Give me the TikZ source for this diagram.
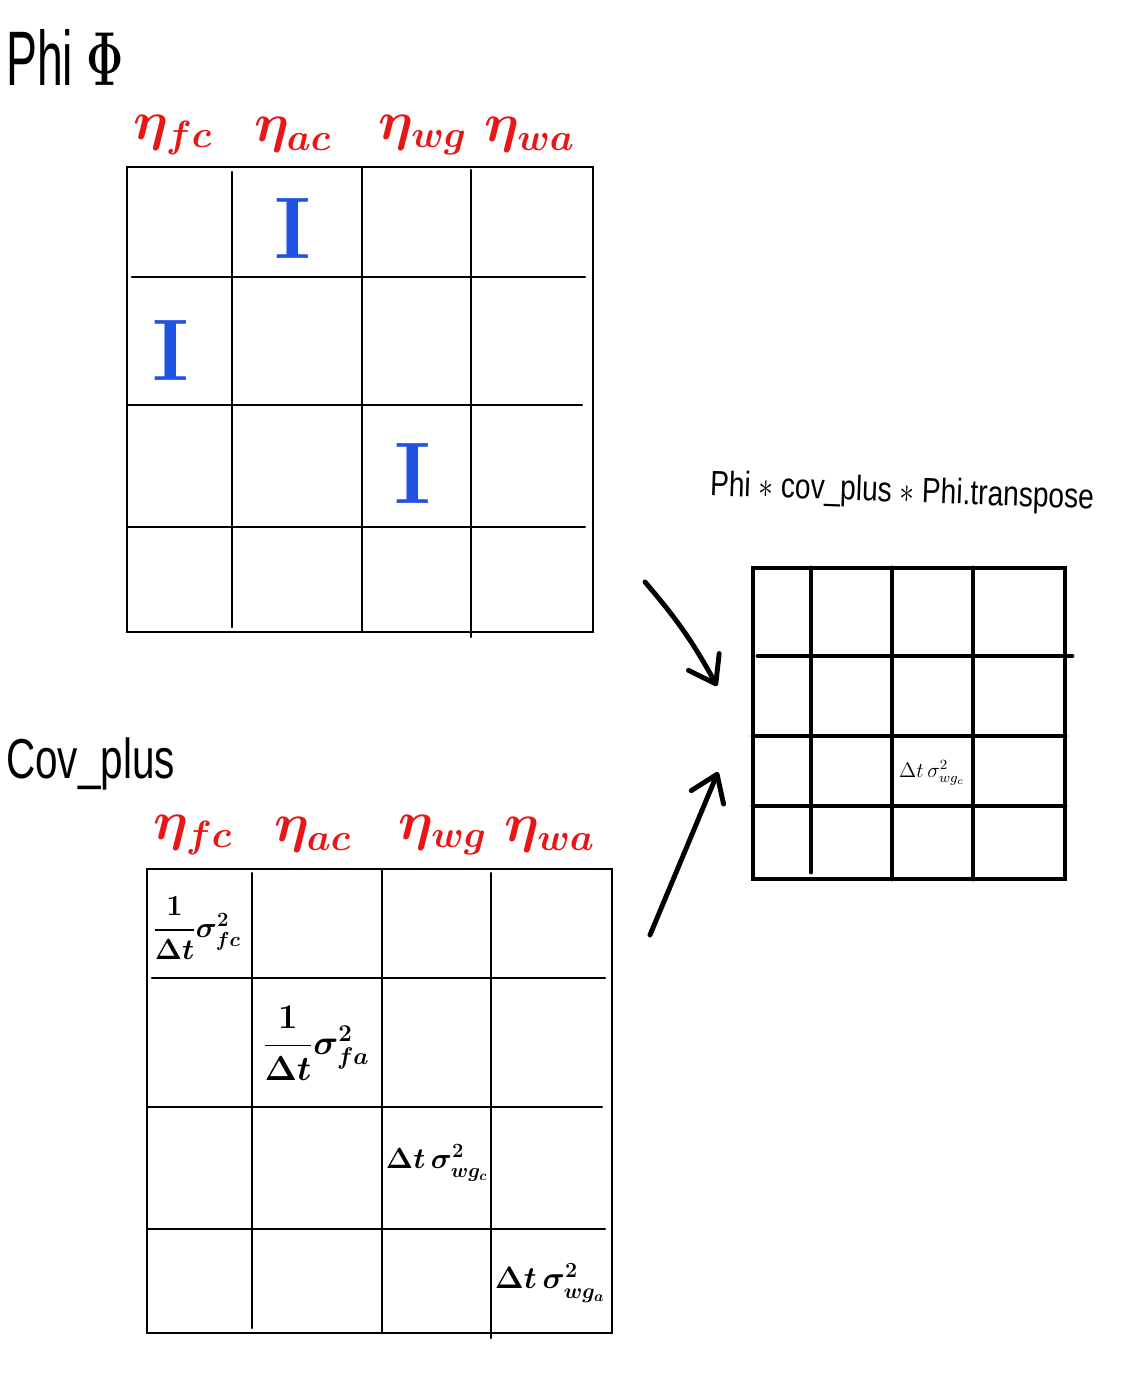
\documentclass[tikz,border=0pt]{standalone}
\usepackage{amsmath}
\usepackage{amssymb}
\usepackage{xcolor}
\usepackage[no-math]{fontspec}
\setmainfont{Liberation Sans}
\usepackage{tikz}
\usetikzlibrary{arrows.meta, positioning, calc}

\definecolor{labelred}{RGB}{232,22,22}
\definecolor{idblue}{RGB}{32,82,228}

% math scaled up past the largest fixed size
\newcommand{\bigmath}[2]{\scalebox{#1}{\fontsize{20}{24}\selectfont$#2$}}

\tikzset{
  gridthin/.style={line width=1.2pt, line cap=round},
  gridthick/.style={line width=2.8pt, line cap=round},
  colname/.style={labelred},
  idmark/.style={idblue},
  handarrow/.style={line width=2.8pt, line cap=round, -{Straight Barb[length=5mm,width=7mm,round]}}
}

\begin{document}
\begin{tikzpicture}[x=0.02cm, y=-0.02cm]
  % Page frame
  \useasboundingbox (0,0) rectangle (1124,1383);

  % Titles
  \node[anchor=west] (phititle) at (0,57) {\scalebox{0.6}[1]{\fontsize{44}{48}\selectfont Phi \bigmath{2.1}{\boldsymbol{\Phi}}}};
  \node[anchor=west] (covtitle) at (0,764) {\scalebox{0.72}[1]{\fontsize{32}{36}\selectfont Cov\_plus}};
  \node[rotate=-2] (formula) at (902,493) {\scalebox{0.8}[1]{\fontsize{20}{24}\selectfont Phi $*$ cov\_plus $*$ Phi.transpose}};

  % Phi matrix
  \draw[gridthin] (127,167) rectangle (593,632);
  \foreach \x/\ya/\yb in {232/172/627, 362/167/632, 471/170/637}
    \draw[gridthin] (\x,\ya) -- (\x,\yb);
  \foreach \y/\xa/\xb in {277/132/585, 405/127/582, 527/127/585}
    \draw[gridthin] (\xa,\y) -- (\xb,\y);

  % Phi column labels
  \node[colname] (phifc) at (173,135) {\bigmath{1.5}{\boldsymbol{\eta_{fc}}}};
  \node[colname] (phiac) at (293,135) {\bigmath{1.5}{\boldsymbol{\eta_{ac}}}};
  \node[colname] (phiwg) at (423,135) {\bigmath{1.5}{\boldsymbol{\eta_{wg}}}};
  \node[colname] (phiwa) at (530,135) {\bigmath{1.5}{\boldsymbol{\eta_{wa}}}};

  % Identity blocks
  \node[idmark] (idone) at (293,228) {\bigmath{2.4}{\mathbf{I}}};
  \node[idmark] (idtwo) at (171,350) {\bigmath{2.4}{\mathbf{I}}};
  \node[idmark] (idthree) at (413,473) {\bigmath{2.4}{\mathbf{I}}};

  % Cov_plus matrix
  \draw[gridthin] (147,869) rectangle (612,1333);
  \foreach \x/\ya/\yb in {252/873/1328, 382/869/1333, 491/873/1338}
    \draw[gridthin] (\x,\ya) -- (\x,\yb);
  \foreach \y/\xa/\xb in {978/152/605, 1107/147/602, 1229/147/605}
    \draw[gridthin] (\xa,\y) -- (\xb,\y);

  % Cov_plus column labels
  \node[colname] (covfc) at (193,835) {\bigmath{1.5}{\boldsymbol{\eta_{fc}}}};
  \node[colname] (covac) at (313,835) {\bigmath{1.5}{\boldsymbol{\eta_{ac}}}};
  \node[colname] (covwg) at (443,835) {\bigmath{1.5}{\boldsymbol{\eta_{wg}}}};
  \node[colname] (covwa) at (550,835) {\bigmath{1.5}{\boldsymbol{\eta_{wa}}}};

  % Diagonal noise terms
  \node (sigfc) at (197,928) {\bigmath{0.8}{\boldsymbol{\dfrac{1}{\Delta t}\sigma_{fc}^{2}}}};
  \node (sigfa) at (316,1043) {\bigmath{0.95}{\boldsymbol{\dfrac{1}{\Delta t}\sigma_{fa}^{2}}}};
  \node (sigwgc) at (437,1163) {\bigmath{0.8}{\boldsymbol{\Delta t\,\sigma_{wg_c}^{2}}}};
  \node (sigwga) at (550,1283) {\bigmath{0.85}{\boldsymbol{\Delta t\,\sigma_{wg_a}^{2}}}};

  % Result matrix
  \draw[gridthick] (753,568) rectangle (1065,879);
  \foreach \x/\ya/\yb in {811/568/872, 892/568/879, 973/568/879}
    \draw[gridthick] (\x,\ya) -- (\x,\yb);
  \foreach \y/\xa/\xb in {656/758/1072, 736/753/1065, 806/753/1065}
    \draw[gridthick] (\xa,\y) -- (\xb,\y);
  \node[font=\fontsize{12}{14}\selectfont] (reswgc) at (932,773) {$\Delta t\,\sigma_{wg_c}^{2}$};

  % Arrows into the result
  \coordinate (phiout) at (645,582);
  \coordinate (resin) at (717,686);
  \coordinate (covout) at (650,935);
  \coordinate (resin2) at (718,772);
  \draw[handarrow] (phiout) to[bend left=6] (resin);
  \draw[handarrow] (covout) -- (resin2);
\end{tikzpicture}
\end{document}
